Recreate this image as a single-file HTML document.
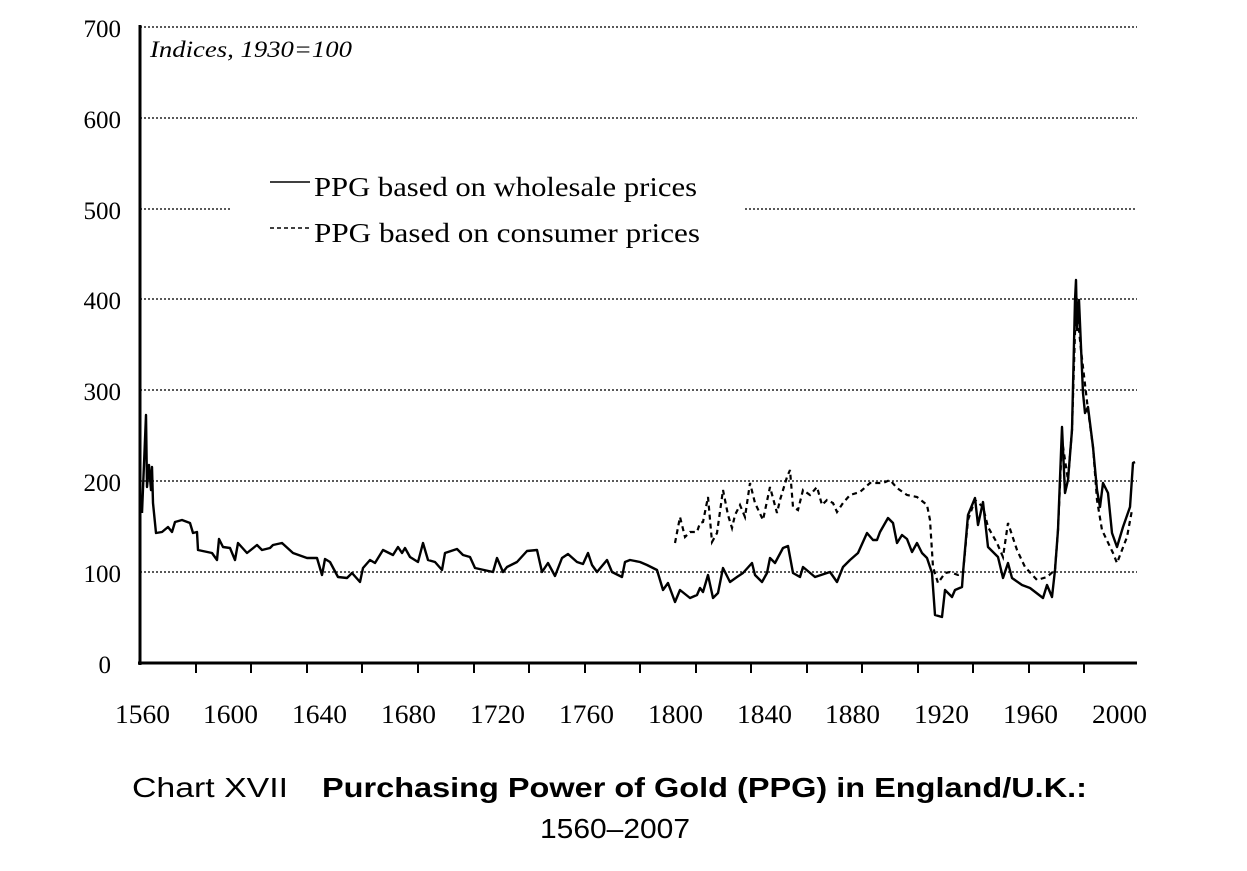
<!DOCTYPE html>
<html><head><meta charset="utf-8"><style>
html,body{margin:0;padding:0;background:#fff;}
svg{display:block}
</style></head><body>
<svg width="1247" height="871" viewBox="0 0 1247 871" xmlns="http://www.w3.org/2000/svg">
<rect width="1247" height="871" fill="#fff"/>
<g stroke="#222" stroke-width="1.5" stroke-dasharray="2,2">
<line x1="140" y1="27" x2="1137" y2="27"/>
<line x1="140" y1="118" x2="1137" y2="118"/>
<line x1="140" y1="209" x2="232" y2="209"/>
<line x1="745" y1="209" x2="1137" y2="209"/>
<line x1="140" y1="299" x2="1137" y2="299"/>
<line x1="140" y1="390" x2="1137" y2="390"/>
<line x1="140" y1="481" x2="1137" y2="481"/>
<line x1="140" y1="572" x2="1137" y2="572"/>
</g>
<g stroke="#000" stroke-width="3">
<line x1="140" y1="25" x2="140" y2="665"/>
<line x1="138" y1="663" x2="1137" y2="663"/>
</g>
<g stroke="#000" stroke-width="2">
<line x1="196" y1="663" x2="196" y2="673"/><line x1="251" y1="663" x2="251" y2="673"/>
<line x1="307" y1="663" x2="307" y2="673"/><line x1="362" y1="663" x2="362" y2="673"/>
<line x1="418" y1="663" x2="418" y2="673"/><line x1="474" y1="663" x2="474" y2="673"/>
<line x1="529" y1="663" x2="529" y2="673"/><line x1="585" y1="663" x2="585" y2="673"/>
<line x1="640" y1="663" x2="640" y2="673"/><line x1="696" y1="663" x2="696" y2="673"/>
<line x1="751" y1="663" x2="751" y2="673"/><line x1="807" y1="663" x2="807" y2="673"/>
<line x1="862" y1="663" x2="862" y2="673"/><line x1="918" y1="663" x2="918" y2="673"/>
<line x1="973" y1="663" x2="973" y2="673"/><line x1="1029" y1="663" x2="1029" y2="673"/>
<line x1="1084" y1="663" x2="1084" y2="673"/>
</g>
<g font-family="Liberation Serif, serif" font-size="25" fill="#000" text-anchor="end">
<text x="121" y="37">700</text><text x="121" y="128">600</text><text x="121" y="219">500</text>
<text x="121" y="309">400</text><text x="121" y="400">300</text><text x="121" y="491">200</text>
<text x="121" y="582">100</text><text x="111" y="673">0</text>
</g>
<g font-family="Liberation Serif, serif" font-size="26" fill="#000" lengthAdjust="spacingAndGlyphs">
<text x="115" y="723" textLength="55" lengthAdjust="spacingAndGlyphs">1560</text><text x="203" y="723" textLength="55" lengthAdjust="spacingAndGlyphs">1600</text><text x="292" y="723" textLength="55" lengthAdjust="spacingAndGlyphs">1640</text>
<text x="381" y="723" textLength="55" lengthAdjust="spacingAndGlyphs">1680</text><text x="470" y="723" textLength="55" lengthAdjust="spacingAndGlyphs">1720</text><text x="559" y="723" textLength="55" lengthAdjust="spacingAndGlyphs">1760</text>
<text x="648" y="723" textLength="55" lengthAdjust="spacingAndGlyphs">1800</text><text x="737" y="723" textLength="55" lengthAdjust="spacingAndGlyphs">1840</text><text x="825" y="723" textLength="55" lengthAdjust="spacingAndGlyphs">1880</text>
<text x="914" y="723" textLength="55" lengthAdjust="spacingAndGlyphs">1920</text><text x="1003" y="723" textLength="55" lengthAdjust="spacingAndGlyphs">1960</text><text x="1092" y="723" textLength="55" lengthAdjust="spacingAndGlyphs">2000</text>
</g>
<text x="150" y="57" font-family="Liberation Serif, serif" font-style="italic" font-size="23" textLength="202" lengthAdjust="spacingAndGlyphs">Indices,  1930=100</text>
<line x1="270" y1="182" x2="310" y2="182" stroke="#000" stroke-width="1.5"/>
<line x1="270" y1="228" x2="310" y2="228" stroke="#000" stroke-width="1.5" stroke-dasharray="4,3"/>
<g font-family="Liberation Serif, serif" font-size="27" fill="#000">
<text x="314" y="196" textLength="383" lengthAdjust="spacingAndGlyphs">PPG based on wholesale prices</text>
<text x="314" y="242" textLength="386" lengthAdjust="spacingAndGlyphs">PPG based on consumer prices</text>
</g>
<polyline fill="none" stroke="#000" stroke-width="2.2" stroke-dasharray="5,4" points="675,543 680,517 685,537 690,532 697,532 700,523 703,522 708,497 712,542 717,533 723,490 728,515 732,528 735,515 740,505 745,517 750,483 755,503 763,520 770,487 777,513 780,500 787,477 790,470 793,507 798,510 803,490 810,495 817,487 822,505 827,500 833,503 837,512 843,503 850,495 860,492 870,483 883,483 890,480 897,488 907,495 917,497 927,505 930,520 933,567 938,583 945,573 950,572 958,575 963,573 968,520 975,500 983,507 988,527 997,543 1003,557 1008,523 1017,550 1025,567 1037,580 1047,577 1055,570 1058,530 1062,440 1068,480 1072,430 1076,300 1081,350 1088,410 1093,447 1097,500 1102,530 1113,553 1117,563 1127,537 1132,510"/>
<polyline fill="none" stroke="#000" stroke-width="2.4" stroke-linejoin="round" points="142,513 146,415 147,487 149,465 151,490 152,467 153,503 156,533 162,532 168,527 172,532 175,522 182,520 190,523 193,533 197,532 198,550 212,553 217,560 219,539 223,547 230,548 235,560 238,543 247,553 257,545 262,550 270,548 273,545 282,543 293,553 307,558 317,558 322,575 325,559 330,562 338,577 347,578 352,573 360,582 363,568 370,560 375,563 383,550 393,555 398,547 402,553 405,548 410,557 418,562 423,543 428,560 435,562 442,570 445,553 457,549 463,555 470,557 475,568 493,572 497,558 503,572 507,567 517,562 527,551 537,550 542,572 548,563 555,576 562,558 568,554 577,562 583,564 588,553 592,565 597,572 607,560 612,572 622,577 625,562 630,560 640,562 647,565 657,570 663,590 668,583 675,602 680,590 690,598 697,595 700,588 703,592 708,575 713,598 718,593 723,568 730,582 737,577 743,573 752,563 755,575 762,582 767,573 770,558 775,563 783,548 788,546 793,573 800,577 803,567 815,577 830,572 837,582 843,567 850,560 858,553 867,533 873,540 877,540 880,532 888,518 893,523 897,543 902,535 907,539 912,552 917,543 922,553 927,558 932,573 935,615 942,617 945,590 952,597 955,590 962,587 963,573 968,515 975,498 978,525 983,502 988,547 998,557 1003,578 1008,563 1012,578 1022,585 1030,588 1043,598 1047,585 1052,597 1055,570 1058,530 1062,427 1065,493 1068,480 1072,430 1075,300 1076,280 1077,330 1079,300 1081,347 1083,393 1085,413 1088,407 1093,447 1097,490 1100,507 1103,483 1108,493 1112,533 1117,547 1123,527 1130,507 1133,463 1135,462"/>
<g font-family="Liberation Sans, sans-serif" font-size="28" fill="#000">
<text x="132" y="797" textLength="156" lengthAdjust="spacingAndGlyphs">Chart XVII</text>
<text x="322" y="797" font-weight="bold" textLength="765" lengthAdjust="spacingAndGlyphs">Purchasing Power of Gold (PPG) in England/U.K.:</text>
<text x="540" y="838" textLength="150" lengthAdjust="spacingAndGlyphs">1560–2007</text>
</g>
</svg>
</body></html>
